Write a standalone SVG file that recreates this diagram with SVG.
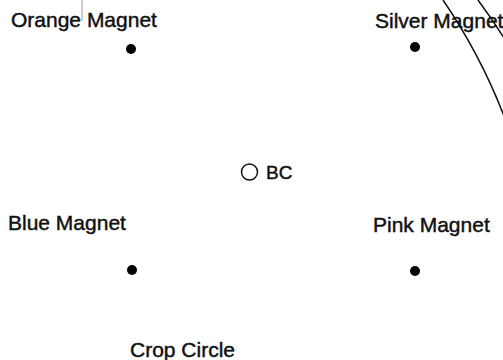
<svg xmlns="http://www.w3.org/2000/svg" width="503" height="360" viewBox="0 0 503 360">
<style>
.lbl{font-family:"Liberation Sans",Arial,sans-serif;font-size:21px;fill:#111;stroke:#111;stroke-width:0.45}
.dot{fill:#000}
.arc{fill:none;stroke:#111;stroke-width:1.5}
</style>
<rect width="503" height="360" fill="#fff"/>
<g id="connectors">
<path class="arc" d="M443,0 A567,567 0 0 1 504,116"/>
<path class="arc" d="M478,0 A596,596 0 0 1 504,38"/>
<line x1="82" y1="0" x2="82" y2="21" stroke="#9a9a9a" stroke-width="1"/>
</g>
<g id="orange-magnet">
<text class="lbl" x="11" y="27">Orange Magnet</text>
<circle class="dot" cx="131" cy="49" r="5"/>
</g>
<g id="silver-magnet">
<text class="lbl" x="375" y="28">Silver Magnet</text>
<circle class="dot" cx="415" cy="47" r="5"/>
</g>
<g id="bc">
<circle cx="249.5" cy="172" r="8" fill="none" stroke="#111" stroke-width="1.5"/>
<text class="lbl" x="266" y="179" style="font-size:19px">BC</text>
</g>
<g id="blue-magnet">
<text class="lbl" x="8" y="230">Blue Magnet</text>
<circle class="dot" cx="132" cy="270" r="5"/>
</g>
<g id="pink-magnet">
<text class="lbl" x="373" y="232">Pink Magnet</text>
<circle class="dot" cx="415" cy="271" r="5"/>
</g>
<g id="crop-circle">
<text class="lbl" x="130" y="357">Crop Circle</text>
</g>
</svg>
